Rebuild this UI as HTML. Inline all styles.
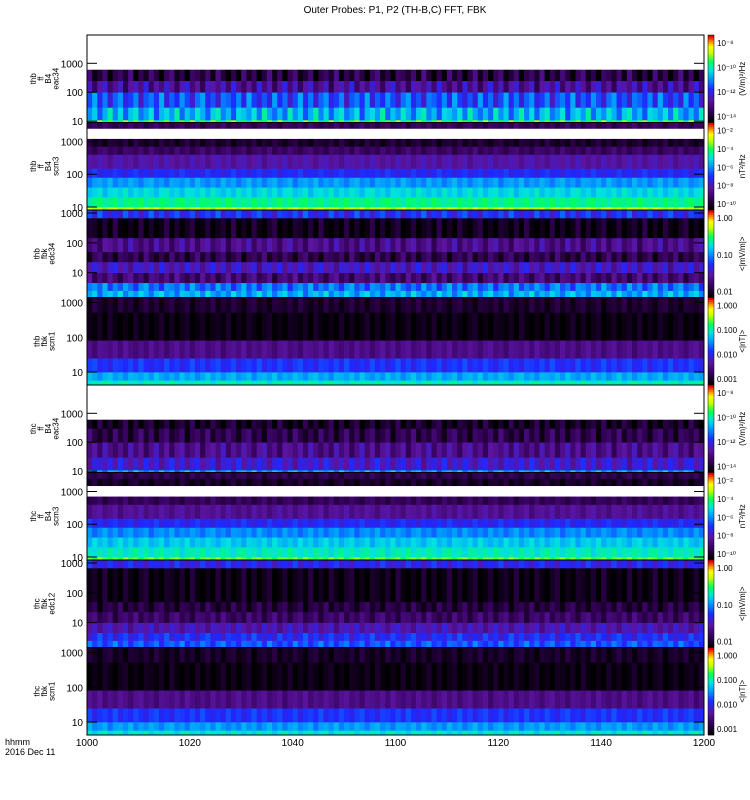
<!DOCTYPE html>
<html><head><meta charset="utf-8">
<style>
body{margin:0;background:#fff;}
svg{display:block;font-family:"Liberation Sans",sans-serif;}
</style></head>
<body>
<svg id="chart" width="750" height="800" xmlns="http://www.w3.org/2000/svg">
<rect width="750" height="800" fill="#fff"/>
<text x="395" y="13" font-size="10" text-anchor="middle">Outer Probes: P1, P2 (TH-B,C) FFT, FBK</text>
<g id="panels"></g>
<text x="5" y="745" font-size="9">hhmm</text>
<text x="5" y="755" font-size="9">2016 Dec 11</text>
</svg>
<script>
// ---- data ----
const timeTicks = ["1000","1020","1040","1100","1120","1140","1200"];
const panelNames = [["thb","ff","B4","eac34"],["thb","ff","B4","scm3"],["thb","fbk","edc34"],["thb","fbk","scm1"],["thc","ff","B4","eac34"],["thc","ff","B4","scm3"],["thc","fbk","edc12"],["thc","fbk","scm1"]];
const freqRanges = [[9,9500],[8.1,3800],[1.47,1260],[4.25,1390],[9,9500],[8.1,3800],[1.47,1260],[4.25,1390]];
const freqTicks = [[10,100,1000],[10,100,1000],[10,100,1000],[10,100,1000],[10,100,1000],[10,100,1000],[10,100,1000],[10,100,1000]];
const bands1 = [[9,11,0.68],[11,30,0.52],[30,100,0.4],[100,250,0.22],[250,600,0.08],[600,9500,null]];
const bands2 = [[8.1,10,0.8],[10,20,0.66],[20,40,0.58],[40,80,0.5],[80,150,0.36],[150,400,0.25],[400,700,0.14],[700,1200,0.06],[1200,2500,null],[2500,3800,0.12]];
const bands3 = [[1.47,2.5,0.52],[2.5,4.6,0.45],[4.6,10,0.16],[10,23,0.28],[23,50,0.1],[50,147,0.2],[147,680,0.02],[680,1260,0.36]];
const bands4 = [[4.25,5.8,0.62],[5.8,10,0.52],[10,25,0.38],[25,82,0.2],[82,518,0.02],[518,1390,0.06]];
const bands5 = [[9,11,0.5],[11,30,0.3],[30,100,0.2],[100,300,0.1],[300,600,0.04],[600,9500,null]];
const bands6 = [[8.1,10,0.74],[10,20,0.62],[20,40,0.56],[40,80,0.48],[80,150,0.36],[150,400,0.22],[400,700,0.12],[700,1500,null],[1500,2500,0.05],[2500,3800,0.1]];
const bands7 = [[1.47,2.5,0.42],[2.5,4.6,0.36],[4.6,10,0.26],[10,23,0.14],[23,50,0.08],[50,680,0.02],[680,1260,0.34]];
const bands8 = [[4.25,5.8,0.6],[5.8,10,0.5],[10,25,0.38],[25,82,0.2],[82,518,0.02],[518,1390,0.05]];
const panelBands = [bands1,bands2,bands3,bands4,bands5,bands6,bands7,bands8];
const modAmp = [0.14,0.05,0.1,0.05,0.1,0.05,0.08,0.05];
const modulation = [0.2,-0.5,0.8,-0.2,0.4,-0.7,0.1,0.9,-0.3,0.5,-0.6,0.3,0.7,-0.4,0.0,0.6,-0.8,0.2,0.5,-0.1,0.9,-0.5,0.3,-0.2,0.7,0.1,-0.6,0.4,0.8,-0.3,0.2,-0.7,0.5,0.3,-0.1,0.6,-0.4,0.9,0.0,-0.5];
const cbLabels = [["10⁻⁸","10⁻¹⁰","10⁻¹²","10⁻¹⁴"],["10⁻²","10⁻⁴","10⁻⁶","10⁻⁸","10⁻¹⁰"],["1.00","0.10","0.01"],["1.000","0.100","0.010","0.001"],["10⁻⁸","10⁻¹⁰","10⁻¹²","10⁻¹⁴"],["10⁻²","10⁻⁴","10⁻⁶","10⁻⁸","10⁻¹⁰"],["1.00","0.10","0.01"],["1.000","0.100","0.010","0.001"]];
const cbUnits = ["(V/m)²/Hz","nT²/Hz","<|mV/m|>","<|nT|>","(V/m)²/Hz","nT²/Hz","<|mV/m|>","<|nT|>"];

// ---- layout ----
const X0=87, X1=704, TOP=35, PH=87.5, NCOL=120;
const NS="http://www.w3.org/2000/svg";
const g=document.getElementById('panels');
const stops=[[0,[0,0,0]],[0.12,[50,0,85]],[0.25,[90,20,160]],[0.38,[30,40,255]],[0.5,[0,150,255]],[0.6,[0,225,225]],[0.7,[0,255,90]],[0.8,[190,255,0]],[0.88,[255,255,0]],[0.94,[255,130,0]],[1,[230,0,0]]];
function cmap(v){v=Math.max(0,Math.min(1,v));for(let i=1;i<stops.length;i++){if(v<=stops[i][0]){const a=stops[i-1],b=stops[i],t=(v-a[0])/(b[0]-a[0]);const c=a[1].map((x,k)=>Math.round(x+(b[1][k]-x)*t));return `rgb(${c[0]},${c[1]},${c[2]})`;}}return 'rgb(230,0,0)';}
function xScale(i){return X0+(X1-X0)*i/NCOL;}
function mk(tag,attrs,parent){const e=document.createElementNS(NS,tag);for(const k in attrs)e.setAttribute(k,attrs[k]);(parent||g).appendChild(e);return e;}

panelBands.forEach((bands,p)=>{
  const top=TOP+p*PH, bot=top+PH;
  const [fmin,fmax]=freqRanges[p];
  const yScale=f=>bot-(Math.log10(f)-Math.log10(fmin))/(Math.log10(fmax)-Math.log10(fmin))*PH;
  const pg=mk('g',{});
  
  
  bands.forEach((b,bi)=>{
    if(b[2]===null) return;
    const y0=yScale(b[1]), y1=yScale(b[0]);
    for(let c=0;c<NCOL;c++){
      const m=modulation[(c+p*7+bi*3)%modulation.length];
      const r=mk('rect',{x:xScale(c).toFixed(2),y:y0.toFixed(2),width:((X1-X0)/NCOL+0.4).toFixed(2),height:(y1-y0+0.3).toFixed(2),fill:cmap(b[2]+m*modAmp[p])},pg);
      
      
    }
  });
  mk('rect',{x:X0,y:top,width:X1-X0,height:PH,fill:'none',stroke:'#000','stroke-width':1},pg);
  freqTicks[p].forEach(f=>{
    const y=yScale(f); if(y<top-1||y>bot+1) return;
    mk('line',{x1:X0,x2:X0+10,y1:y,y2:y,stroke:'#000'},pg);
    mk('line',{x1:X1-10,x2:X1,y1:y,y2:y,stroke:'#000'},pg);
    const t=mk('text',{x:X0-4,y:y+4,'font-size':10,'text-anchor':'end'},pg);t.textContent=f;
    
    
  });
  const lbl=mk('text',{transform:`translate(${44},${top+PH/2}) rotate(-90)`,'font-size':8,'text-anchor':'middle'},pg);
  
  
  const names=panelNames[p];
  names.forEach((n,i)=>{const ts=mk('tspan',{x:0,dy:i===0?(-(names.length-1)*3.75+3):7.5},lbl);ts.textContent=n;});
  // colorbar
  const cb=mk('g',{});
  
  
  for(let k=0;k<40;k++){
    mk('rect',{x:708,y:(bot-(k+1)*PH/40).toFixed(2),width:6,height:(PH/40+0.3).toFixed(2),fill:cmap(k/39)},cb);
  }
  mk('rect',{x:708,y:top,width:6,height:PH,fill:'none',stroke:'#000','stroke-width':0.5},cb);
  const labs=cbLabels[p];
  labs.forEach((l,i)=>{
    const y=top+8+i*(PH-14)/(labs.length-1);
    const t=mk('text',{x:717,y:y+3,'font-size':8},cb);t.textContent=l;
    
    
  });
  const u=mk('text',{transform:`translate(745,${top+PH/2}) rotate(-90)`,'font-size':8,'text-anchor':'middle'},cb);u.textContent=cbUnits[p];
  
  
});
timeTicks.forEach((t,i)=>{
  const x=X0+(X1-X0)*i/(timeTicks.length-1);
  const e=mk('text',{x:x,y:746,'font-size':10,'text-anchor':'middle'});e.textContent=t;
  
  
});
</script>
</body></html>
